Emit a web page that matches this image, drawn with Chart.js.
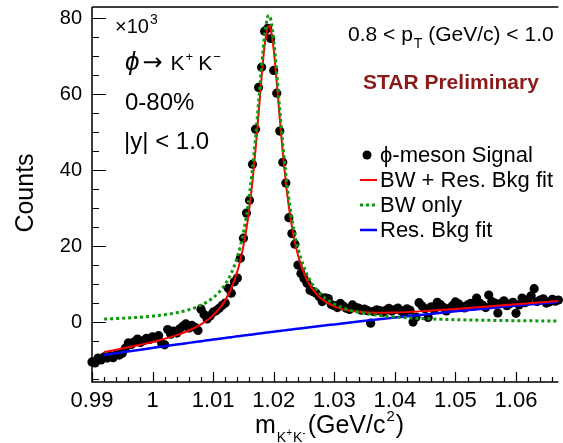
<!DOCTYPE html>
<html>
<head>
<meta charset="utf-8">
<script src="https://cdn.jsdelivr.net/npm/chart.js@4.4.0/dist/chart.umd.min.js"></script>
<style>
  html, body { margin: 0; padding: 0; background: #fff; }
  #wrap { width: 563px; height: 443px; }
</style>
</head>
<body>
<div id="wrap"><canvas id="phiChart" width="563" height="443"></canvas></div>
<script>
const FONT = "'Liberation Sans', Arial, Helvetica, sans-serif";

// invariant mass bins (GeV/c^2), counts in units of 10^3
const massLow = 0.99;
const binWidth = 0.0005;
const phiSignal = [
  -10.5, -10.8, -9.5, -10.0, -9.2, -9.5, -8.9, -9.4, -8.6, -8.7,
  -8.2, -6.9, -5.5, -5.9, -5.2, -4.5, -5.4, -4.9, -4.3, -4.6,
  -3.9, -4.2, -3.6, -5.6, -6.0, -2.0, -3.2, -2.4, -2.9, -1.8,
  -1.1, -0.5, -1.6, -0.9, -1.4, -2.2, 3.4, 2.0, 0.8, 1.6,
  2.6, 3.0, 3.6, 4.4, 5.0, 8.9, 7.6, 10.6, 11.6, 16.8,
  22.1, 28.7, 32.1, 41.6, 50.8, 61.8, 67.1, 76.6, 77.4, 74.7,
  66.3, 60.3, 50.3, 42.1, 36.6, 27.5, 23.3, 20.5, 15.0, 12.8,
  11.5, 10.2, 8.4, 8.0, 7.6, 6.7, 5.4, 6.4, 6.2, 4.6,
  4.3, 3.8, 4.9, 4.2, 3.6, 3.3, 4.5, 3.9, 3.7, 3.1,
  3.4, 3.0, -0.3, 2.8, 3.2, 3.0, 2.6, 3.1, 3.6, 2.9,
  3.3, 3.7, 3.0, 2.4, 3.5, 3.1, 0.0, 1.3, 5.1, 4.2,
  3.5, 1.2, 4.0, 3.3, 5.2, 4.6, 3.9, 2.9, 3.6, 4.3,
  5.3, 4.8, 4.1, 3.7, 4.5, 4.9, 4.2, 6.3, 5.0, 4.4,
  3.8, 7.1, 5.4, 5.0, 2.4, 4.9, 5.6, 4.3, 4.8, 5.2,
  2.3, 4.5, 6.3, 5.1, 5.9, 6.9, 8.8, 5.4, 5.8, 6.1,
  5.0, 5.3, 6.0, 5.5, 5.8
];

// fit curves
const fitMass = [
  0.992, 0.995, 0.998, 1.001, 1.004, 1.006, 1.008, 1.009, 1.010, 1.011,
  1.012, 1.013, 1.014, 1.0145, 1.015, 1.0155, 1.016, 1.0165, 1.017, 1.0175,
  1.018, 1.0185, 1.019, 1.0192, 1.0195, 1.020, 1.0205, 1.021, 1.0215, 1.022,
  1.0225, 1.023, 1.0235, 1.024, 1.025, 1.026, 1.027, 1.028, 1.030, 1.032,
  1.034, 1.037, 1.040, 1.045, 1.050, 1.055, 1.060, 1.067
];
const fitBwRes = [
  -7.91, -7.00, -6.00, -4.86, -3.46, -2.24, -0.61, 0.46, 1.79, 3.50,
  5.77, 8.90, 13.39, 16.38, 20.07, 24.62, 30.24, 37.14, 45.41, 54.81,
  64.52, 72.86, 77.61, 78.09, 77.16, 71.73, 63.14, 53.59, 44.57, 36.78,
  30.35, 25.16, 20.99, 17.66, 12.83, 9.63, 7.47, 5.96, 4.13, 3.19,
  2.72, 2.47, 2.51, 2.89, 3.44, 4.05, 4.68, 5.56
];
const fitBwOnly = [
  0.79, 0.99, 1.29, 1.74, 2.47, 3.25, 4.44, 5.29, 6.41, 7.90,
  9.96, 12.88, 17.16, 20.05, 23.63, 28.08, 33.60, 40.40, 48.56, 57.86,
  67.47, 75.71, 80.36, 80.80, 79.81, 74.28, 65.59, 55.94, 46.82, 38.93,
  32.40, 27.11, 22.85, 19.42, 14.39, 11.00, 8.65, 6.95, 4.75, 3.44,
  2.60, 1.82, 1.34, 0.88, 0.62, 0.46, 0.35, 0.26
];
const fitResBkg = [
  -8.70, -7.99, -7.29, -6.60, -5.93, -5.49, -5.05, -4.83, -4.62, -4.40,
  -4.19, -3.98, -3.77, -3.67, -3.56, -3.46, -3.36, -3.26, -3.15, -3.05,
  -2.95, -2.85, -2.75, -2.71, -2.65, -2.55, -2.45, -2.35, -2.25, -2.15,
  -2.05, -1.95, -1.86, -1.76, -1.56, -1.37, -1.18, -0.99, -0.62, -0.25,
  0.12, 0.65, 1.17, 2.01, 2.82, 3.59, 4.33, 5.30
];

const xTickValues = [0.99, 1.00, 1.01, 1.02, 1.03, 1.04, 1.05, 1.06];
const xTickLabels = ['0.99', '1', '1.01', '1.02', '1.03', '1.04', '1.05', '1.06'];
const yTickValues = [0, 20, 40, 60, 80];
const yTickLabels = ['0', '20', '40', '60', '80'];

const legendLabels = ['\u03D5-meson Signal', 'BW + Res. Bkg fit', 'BW only', 'Res. Bkg fit'];
const colSignal = '#000000';
const colBwRes = '#ff0000';
const colBwOnly = '#0a9a0a';
const colResBkg = '#0000ff';

const signalPts = phiSignal.map((c, i) => ({ x: +(massLow + i * binWidth).toFixed(4), y: c }));
const curve = vals => fitMass.map((m, i) => ({ x: m, y: vals[i] }));

function labelFor(values, labels, v) {
  const i = values.findIndex(t => Math.abs(t - v) < 1e-9);
  return i < 0 ? '' : labels[i];
}

// ROOT style frame, inward ticks, text boxes and legend
const rootDecor = {
  id: 'rootDecor',
  afterDatasetsDraw(chart) {
    const { ctx, chartArea: a, scales: { x, y } } = chart;
    ctx.save();
    ctx.strokeStyle = '#000';
    ctx.lineWidth = 1.5;
    ctx.beginPath();
    ctx.moveTo(a.left, a.top); ctx.lineTo(a.left, a.bottom); ctx.lineTo(a.right, a.bottom);
    ctx.moveTo(a.left, a.top); ctx.lineTo(a.right, a.top);
    ctx.stroke();
    ctx.lineWidth = 1.2;
    ctx.beginPath();
    for (let k = 0; k <= 38; k++) {
      const px = Math.round(x.getPixelForValue(0.99 + k * 0.002)) + 0.5;
      const len = k % 5 === 0 ? 10 : 5;
      ctx.moveTo(px, a.bottom); ctx.lineTo(px, a.bottom - len);
    }
    for (let k = -3; k <= 16; k++) {
      const py = Math.round(y.getPixelForValue(k * 5)) + 0.5;
      const len = k % 4 === 0 ? 14 : 7;
      ctx.moveTo(a.left, py); ctx.lineTo(a.left + len, py);
    }
    ctx.stroke();
    ctx.restore();
  },
  afterDraw(chart) {
    const ctx = chart.ctx;
    const txt = (s, px, py, size, extra, fam) => {
      ctx.font = (extra || '') + ' ' + size + 'px ' + (fam || FONT);
      ctx.fillText(s, px, py);
      return px + ctx.measureText(s).width;
    };
    ctx.save();
    ctx.fillStyle = '#000';
    ctx.textAlign = 'left';
    ctx.textBaseline = 'alphabetic';

    // x10^3
    let cx = txt('\u00D7', 115, 33, 20);
    cx = txt('10', cx, 33, 20);
    txt('3', cx + 1, 24, 14);

    // phi -> K+ K-
    cx = txt('\u03D5', 125, 70, 26, 'italic');
    cx = txt('\u2192', cx + 3, 70, 24, '', "'DejaVu Sans', sans-serif");
    cx = txt('K', cx + 8, 70, 21);
    cx = txt('+', cx + 1, 61, 13);
    cx = txt('K', cx + 5, 70, 21);
    txt('\u2212', cx + 1, 61, 13);

    txt('0-80%', 125, 110, 24);
    txt('|y| < 1.0', 124, 149, 24);

    // pT range
    cx = txt('0.8 < p', 348, 41, 21);
    cx = txt('T', cx + 1, 48, 14);
    txt(' (GeV/c) < 1.0', cx, 41, 21);

    ctx.fillStyle = '#8b1a1a';
    txt('STAR Preliminary', 363, 89, 21, 'bold');

    // legend
    ctx.fillStyle = '#000';
    const rows = [155, 180, 205, 230];
    rows.forEach((ry, i) => txt(legendLabels[i], 380, ry + 7, 22));
    ctx.beginPath();
    ctx.fillStyle = colSignal;
    ctx.arc(367, rows[0], 4.5, 0, Math.PI * 2);
    ctx.fill();
    const seg = (ry, col, w, dash) => {
      ctx.beginPath();
      ctx.strokeStyle = col;
      ctx.lineWidth = w;
      ctx.setLineDash(dash);
      ctx.moveTo(360, ry); ctx.lineTo(377, ry);
      ctx.stroke();
      ctx.setLineDash([]);
    };
    seg(rows[1], colBwRes, 2, []);
    seg(rows[2], colBwOnly, 3, [3, 3]);
    seg(rows[3], colResBkg, 2.5, []);

    // axis titles
    ctx.fillStyle = '#000';
    cx = txt('m', 255, 433, 25);
    cx = txt('K', cx + 1, 442, 14);
    cx = txt('+', cx, 436, 10);
    cx = txt('K', cx + 1, 442, 14);
    cx = txt('-', cx, 436, 10);
    cx = txt('(GeV/c', cx + 2, 433, 25);
    cx = txt('2', cx + 1, 421, 15);
    txt(')', cx + 1, 433, 25);

    ctx.translate(26, 193);
    ctx.rotate(-Math.PI / 2);
    ctx.textAlign = 'center';
    ctx.textBaseline = 'middle';
    ctx.font = '25px ' + FONT;
    ctx.fillText('Counts', 0, 0);
    ctx.restore();
  }
};

const ctxPhi = document.getElementById('phiChart').getContext('2d');
const phiChart = new Chart(ctxPhi, {
  type: 'scatter',
  data: {
    datasets: [
      {
        label: 'BW only',
        data: curve(fitBwOnly),
        showLine: true,
        borderColor: colBwOnly,
        borderWidth: 3,
        borderDash: [3, 3],
        pointRadius: 0,
        cubicInterpolationMode: 'monotone',
        order: 0
      },
      {
        label: 'BW + Res. Bkg fit',
        data: curve(fitBwRes),
        showLine: true,
        borderColor: colBwRes,
        borderWidth: 2,
        pointRadius: 0,
        cubicInterpolationMode: 'monotone',
        order: 1
      },
      {
        label: 'Res. Bkg fit',
        data: curve(fitResBkg),
        showLine: true,
        borderColor: colResBkg,
        borderWidth: 2.5,
        pointRadius: 0,
        cubicInterpolationMode: 'monotone',
        order: 2
      },
      {
        label: 'phi-meson Signal',
        data: signalPts,
        backgroundColor: colSignal,
        borderWidth: 0,
        pointRadius: 4.6,
        pointHoverRadius: 4.6,
        clip: false,
        order: 3
      }
    ]
  },
  options: {
    responsive: false,
    animation: false,
    events: [],
    layout: { padding: { left: 0, right: 0, top: 7, bottom: 0 } },
    plugins: {
      legend: { display: false },
      tooltip: { enabled: false }
    },
    scales: {
      x: {
        type: 'linear',
        min: 0.99,
        max: 1.067,
        grid: { display: false, drawTicks: false },
        border: { display: false },
        afterBuildTicks: s => { s.ticks = xTickValues.map(v => ({ value: v })); },
        afterFit: s => { s.height = 61; s.paddingLeft = 0; s.paddingRight = 0; },
        ticks: {
          padding: 6,
          color: '#000',
          autoSkip: false,
          maxRotation: 0,
          font: { family: FONT, size: 22 },
          callback: v => labelFor(xTickValues, xTickLabels, v)
        }
      },
      y: {
        type: 'linear',
        min: -15.8,
        max: 83,
        grid: { display: false, drawTicks: false },
        border: { display: false },
        afterBuildTicks: s => { s.ticks = yTickValues.map(v => ({ value: v })); },
        afterFit: s => { s.width = 92; s.paddingTop = 0; s.paddingBottom = 0; },
        ticks: {
          padding: 10,
          color: '#000',
          font: { family: FONT, size: 20 },
          callback: v => labelFor(yTickValues, yTickLabels, v)
        }
      }
    }
  },
  plugins: [rootDecor]
});
</script>
</body>
</html>
